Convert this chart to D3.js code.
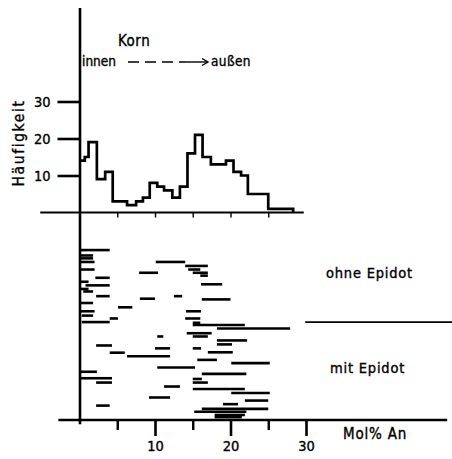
<!DOCTYPE html>
<html><head><meta charset="utf-8">
<script src="https://cdn.jsdelivr.net/npm/d3@7"></script>
<style>
html,body{margin:0;padding:0;background:#fff;}
svg{display:block;}
text{font-family:"DejaVu Sans Condensed","DejaVu Sans",sans-serif;fill:#000;stroke:#000;stroke-width:0.35px;}
</style></head><body>
<svg id="c" width="452" height="459"></svg>
<script>
// ---- data ----
const xTickMajor = [10, 20, 30];
const xTickMinor = [5, 15, 25];
const yTicks = [10, 20, 30];
// histogram: bin edges (Mol% An) and counts (Häufigkeit)
const histEdges  = [0, 0.7, 1.2, 2.3, 3.4, 4.4, 6.3, 7.5, 8.4, 9.3, 10.3, 11.2, 12.3, 13.3, 14.3, 15.3, 16.3, 17.4, 19.4, 20.4, 21.4, 22.3, 25.0, 28.3];
const histCounts = [14, 15, 19, 9, 11, 3, 2, 3, 4, 8, 7, 6, 4, 7, 16, 21, 15, 13, 14, 11, 10, 5, 1];
// composition ranges of single grains: [row, from, to]
const ohneEpidot = [
  [2.8, 0.1, 4.0], [4.3, 0.2, 1.8], [5.1, 0.2, 1.8], [6.1, 0.2, 2.0], [6.1, 10.1, 14.0],
  [7.2, 14.0, 17.0], [8.2, 0.2, 2.0], [8.2, 14.4, 16.0], [9.1, 7.9, 10.4], [9.1, 15.0, 17.0],
  [9.9, 16.0, 17.0], [10.5, 2.1, 4.0], [11.6, 0.2, 1.2], [12.3, 16.1, 18.9], [12.6, 0.8, 4.0],
  [13.6, 0.2, 1.2], [14.3, 0.5, 1.8], [15.6, 2.2, 4.0], [15.6, 12.5, 13.6], [16.3, 8.0, 10.0],
  [16.5, 16.2, 20.0], [17.5, 0.2, 1.8], [18.7, 5.1, 7.0], [19.8, 0.2, 2.0], [19.8, 14.1, 16.1],
  [21.0, 0.3, 1.8], [21.8, 4.0, 5.1], [21.8, 14.0, 16.0], [22.8, 0.3, 4.0]
];
const mitEpidot = [
  [23.0, 15.0, 16.0], [23.6, 15.0, 21.9], [24.6, 18.2, 27.9], [25.9, 14.2, 17.5], [26.8, 10.3, 11.1],
  [26.8, 15.0, 17.0], [27.9, 18.2, 22.2], [29.0, 18.2, 20.2], [29.3, 2.2, 4.3], [30.1, 10.0, 12.0],
  [30.1, 15.0, 16.1], [31.2, 17.0, 20.3], [31.3, 4.0, 6.0], [32.3, 6.3, 12.0], [33.3, 15.6, 18.2],
  [34.2, 20.1, 25.2], [35.4, 10.3, 15.3], [36.6, 0.2, 2.3], [37.2, 16.2, 22.1], [38.4, 0.2, 4.3],
  [38.6, 15.0, 16.2], [39.6, 2.2, 4.3], [39.6, 15.0, 17.0], [40.7, 11.2, 13.3], [41.4, 15.0, 21.9],
  [42.5, 20.1, 25.2], [43.75, 9.2, 12.0], [44.6, 21.9, 25.0], [45.6, 19.0, 21.0], [46.0, 2.2, 4.0],
  [46.9, 16.2, 25.0], [47.7, 15.2, 22.1], [48.6, 17.9, 21.9], [49.2, 17.9, 21.5]
];
const dividerRow = 22.8;

// ---- scales ----
const svg = d3.select("#c");
const x = d3.scaleLinear().domain([0, 30]).range([79.5, 306]);
const yH = d3.scaleLinear().domain([0, 30]).range([212.5, 101.5]);
const yR = d3.scaleLinear().domain([0, 50]).range([240, 420]);
const FONT = '"DejaVu Sans Condensed","DejaVu Sans",sans-serif';

// vertical axis line spanning both panels
svg.append("line").attr("x1", x(0) + 0.5).attr("x2", x(0) + 0.5)
  .attr("y1", 8).attr("y2", yR(51.2)).attr("stroke", "#000").attr("stroke-width", 2.6);

// histogram baseline
svg.append("line").attr("x1", x(-5.2)).attr("x2", x(29.7)).attr("y1", yH(0)).attr("y2", yH(0))
  .attr("stroke", "#000").attr("stroke-width", 2.2);
// small ticks under histogram baseline
const ax0 = svg.append("g").attr("transform", `translate(0,${yH(0)})`)
  .call(d3.axisBottom(x).tickValues([0, 5, 10, 15, 20, 25]).tickSize(5).tickFormat(""));
ax0.select(".domain").remove();
ax0.selectAll("line").attr("stroke-width", 1.4);

// y axis of histogram
const ay = svg.append("g").attr("transform", `translate(${x(0)},0)`)
  .call(d3.axisLeft(yH).tickValues(yTicks).tickSize(22).tickPadding(7));
ay.select(".domain").remove();
ay.selectAll("line").attr("stroke-width", 2.6);
ay.selectAll("text").attr("font-size", 14.5).style("font-family", FONT);

// histogram step line
const pts = histCounts.map((c, i) => [histEdges[i], c]);
pts.push([histEdges[histEdges.length - 1], histCounts[histCounts.length - 1]]);
pts.push([histEdges[histEdges.length - 1], 0]);
svg.append("path").datum(pts)
  .attr("d", d3.line().x(d => x(d[0])).y(d => yH(d[1])).curve(d3.curveStepAfter))
  .attr("fill", "none").attr("stroke", "#000").attr("stroke-width", 2.7).attr("stroke-linejoin", "miter");

// range segments
const segs = svg.append("g");
segs.selectAll("line").data(ohneEpidot.concat(mitEpidot)).join("line")
  .attr("x1", d => x(d[1])).attr("x2", d => x(d[2]))
  .attr("y1", d => yR(d[0])).attr("y2", d => yR(d[0]))
  .attr("stroke", "#000").attr("stroke-width", 2.6);

// divider between groups
svg.append("line").attr("x1", x(29.9)).attr("x2", 452)
  .attr("y1", yR(dividerRow)).attr("y2", yR(dividerRow)).attr("stroke", "#000").attr("stroke-width", 1.8);

// bottom axis
svg.append("line").attr("x1", x(-2.8)).attr("x2", x(48.7)).attr("y1", yR(50)).attr("y2", yR(50))
  .attr("stroke", "#000").attr("stroke-width", 2.4);
const axB = svg.append("g").attr("transform", `translate(0,${yR(50)})`)
  .call(d3.axisBottom(x).tickValues(xTickMajor).tickSize(16).tickPadding(5));
axB.select(".domain").remove();
axB.selectAll("line").attr("stroke-width", 2.6);
axB.selectAll("text").attr("font-size", 14.5).style("font-family", FONT);
const axM = svg.append("g").attr("transform", `translate(0,${yR(50)})`)
  .call(d3.axisBottom(x).tickValues(xTickMinor).tickSize(10).tickFormat(""));
axM.select(".domain").remove();
axM.selectAll("line").attr("stroke-width", 2.4);

// texts
svg.append("text").attr("x", 343).attr("y", 439).attr("font-size", 15).attr("letter-spacing", 0.8).text("Mol% An");
svg.append("text").attr("x", 326).attr("y", 278).attr("font-size", 14.5).attr("letter-spacing", 0.8).text("ohne Epidot");
svg.append("text").attr("x", 330).attr("y", 373).attr("font-size", 14.5).attr("letter-spacing", 0.8).text("mit  Epidot");
svg.append("text").attr("x", 118).attr("y", 46).attr("font-size", 15).attr("letter-spacing", 0.5).text("Korn");
svg.append("text").attr("x", 82).attr("y", 66).attr("font-size", 13.5).text("innen");
svg.append("text").attr("x", 211).attr("y", 66).attr("font-size", 13.5).attr("letter-spacing", 0.4).text("außen");
svg.append("text").attr("transform", "translate(24,143) rotate(-90)").attr("text-anchor", "middle")
  .attr("font-size", 15.5).attr("letter-spacing", 1.6).text("Häufigkeit");

// dashed arrow innen -> außen
svg.append("line").attr("x1", 128).attr("x2", 185).attr("y1", 62).attr("y2", 62)
  .attr("stroke", "#000").attr("stroke-width", 1.4).attr("stroke-dasharray", "11,6");
svg.append("line").attr("x1", 185).attr("x2", 207).attr("y1", 62).attr("y2", 62)
  .attr("stroke", "#000").attr("stroke-width", 1.4);
svg.append("path").attr("d", "M202,58.5 L208,62 L202,65.5").attr("fill", "none").attr("stroke", "#000").attr("stroke-width", 1.4);
</script>
</body></html>
